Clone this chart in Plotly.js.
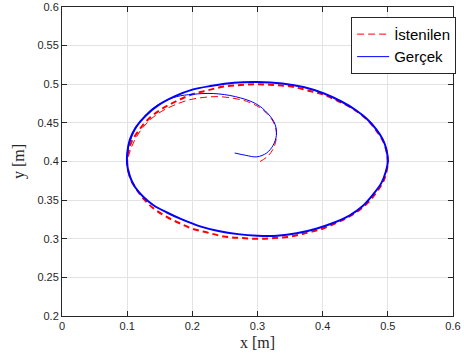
<!DOCTYPE html>
<html>
<head>
<meta charset="utf-8">
<script src="https://cdn.plot.ly/plotly-3.0.1.min.js"></script>
<style>html,body{margin:0;padding:0;background:#fff;}#chart{width:464px;height:356px;}</style>
</head>
<body>
<div id="chart"></div>
<script>
// Desired (İstenilen) trajectory: spiral arm from centre, then the ellipse loop
const desiredArmX = [0.304,0.316,0.325,0.329,0.327,0.318,0.303,0.283,0.262,0.240,0.218,0.196,0.175,0.155,0.138,0.124,0.113,0.105,0.100];
const desiredArmY = [0.400,0.407,0.418,0.432,0.446,0.459,0.470,0.478,0.482,0.484,0.483,0.480,0.474,0.466,0.456,0.444,0.430,0.415,0.400];
const desiredLoopX = [0.100,0.102,0.107,0.116,0.127,0.141,0.159,0.178,0.200,0.223,0.248,0.274,0.300,0.326,0.352,0.377,0.400,0.422,0.441,0.459,0.473,0.484,0.493,0.498,0.500,
                      0.498,0.493,0.484,0.473,0.459,0.441,0.422,0.400,0.377,0.352,0.326,0.300,0.274,0.248,0.223,0.200,0.178,0.159,0.141,0.127,0.116,0.107,0.102,0.100];
const desiredLoopY = [0.400,0.387,0.374,0.362,0.350,0.339,0.329,0.321,0.313,0.308,0.303,0.301,0.300,0.301,0.303,0.308,0.313,0.321,0.329,0.339,0.350,0.362,0.374,0.387,0.400,
                      0.413,0.426,0.438,0.450,0.461,0.471,0.479,0.487,0.492,0.497,0.499,0.500,0.499,0.497,0.492,0.487,0.479,0.471,0.461,0.450,0.438,0.426,0.413,0.400];

// Actual (Gerçek) trajectory
const actualArmX = [0.265,0.282,0.299,0.314,0.324,0.329,0.327,0.316,0.297,0.266,0.232,0.201,0.176,0.155,0.138,0.124,0.112,0.104,0.100];
const actualArmY = [0.411,0.408,0.406,0.411,0.421,0.434,0.448,0.462,0.475,0.484,0.488,0.487,0.484,0.477,0.468,0.456,0.441,0.425,0.410];
const actualLoopX = [0.100,0.100,0.104,0.112,0.125,0.141,0.161,0.184,0.212,0.240,0.270,0.300,0.330,0.360,0.390,0.418,0.441,0.461,0.477,0.490,0.497,0.500,
                     0.498,0.492,0.482,0.468,0.450,0.428,0.402,0.372,0.338,0.300,0.264,0.230,0.200,0.172,0.148,0.128,0.113,0.104,0.100];
const actualLoopY = [0.410,0.396,0.381,0.367,0.354,0.343,0.334,0.325,0.316,0.310,0.306,0.304,0.304,0.307,0.313,0.321,0.330,0.342,0.357,0.372,0.387,0.400,
                     0.415,0.429,0.442,0.455,0.467,0.478,0.488,0.496,0.501,0.503,0.502,0.498,0.493,0.484,0.473,0.459,0.444,0.428,0.410];

const seriesNames = ['İstenilen', 'Gerçek'];
const xTickVals = [0, 0.1, 0.2, 0.3, 0.4, 0.5, 0.6];
const xTickText = ['0', '0.1', '0.2', '0.3', '0.4', '0.5', '0.6'];
const yTickVals = [0.2, 0.25, 0.3, 0.35, 0.4, 0.45, 0.5, 0.55, 0.6];
const yTickText = ['0.2', '0.25', '0.3', '0.35', '0.4', '0.45', '0.5', '0.55', '0.6'];

const red = '#ff0000', blue = '#0000ff', axisCol = '#262626';

const traces = [
  {x: desiredArmX, y: desiredArmY, mode: 'lines', name: seriesNames[0], legendgroup: 'd',
   line: {color: red, width: 1, dash: '7px,4px', shape: 'spline'}},
  {x: desiredLoopX, y: desiredLoopY, mode: 'lines', name: seriesNames[0], legendgroup: 'd', showlegend: false,
   line: {color: red, width: 2, dash: '6px,4px', shape: 'spline'}},
  {x: actualArmX, y: actualArmY, mode: 'lines', name: seriesNames[1], legendgroup: 'a',
   line: {color: blue, width: 1, shape: 'spline'}},
  {x: actualLoopX, y: actualLoopY, mode: 'lines', name: seriesNames[1], legendgroup: 'a', showlegend: false,
   line: {color: blue, width: 2, shape: 'spline'}}
];

const axisCommon = {
  showline: true, mirror: 'ticks', linecolor: axisCol, linewidth: 1,
  ticks: 'inside', ticklen: 5, tickcolor: axisCol, tickwidth: 1,
  showgrid: true, gridcolor: '#e3e3e3', gridwidth: 1, zeroline: false,
  tickfont: {family: 'Liberation Sans, Arial, sans-serif', size: 11, color: axisCol}
};

const layout = {
  width: 464, height: 356,
  margin: {l: 62, r: 11, t: 7, b: 40, pad: 0},
  paper_bgcolor: '#ffffff', plot_bgcolor: '#ffffff',
  xaxis: Object.assign({}, axisCommon, {
    range: [0, 0.6], tickmode: 'array', tickvals: xTickVals, ticktext: xTickText,
    title: {text: 'x [m]', font: {family: 'Liberation Serif, Times New Roman, serif', size: 16, color: axisCol}, standoff: 5}
  }),
  yaxis: Object.assign({}, axisCommon, {
    range: [0.2, 0.6], tickmode: 'array', tickvals: yTickVals, ticktext: yTickText,
    title: {text: 'y [m]', font: {family: 'Liberation Serif, Times New Roman, serif', size: 16, color: axisCol}, standoff: 8}
  }),
  showlegend: true,
  legend: {
    x: 1.008, xanchor: 'right', y: 0.968, yanchor: 'top',
    bgcolor: '#ffffff', bordercolor: axisCol, borderwidth: 1,
    font: {family: 'Liberation Sans, Arial, sans-serif', size: 15, color: '#000000'},
    itemwidth: 32, tracegroupgap: 0
  }
};

Plotly.newPlot('chart', traces, layout, {staticPlot: true, displayModeBar: false});
</script>
</body>
</html>
